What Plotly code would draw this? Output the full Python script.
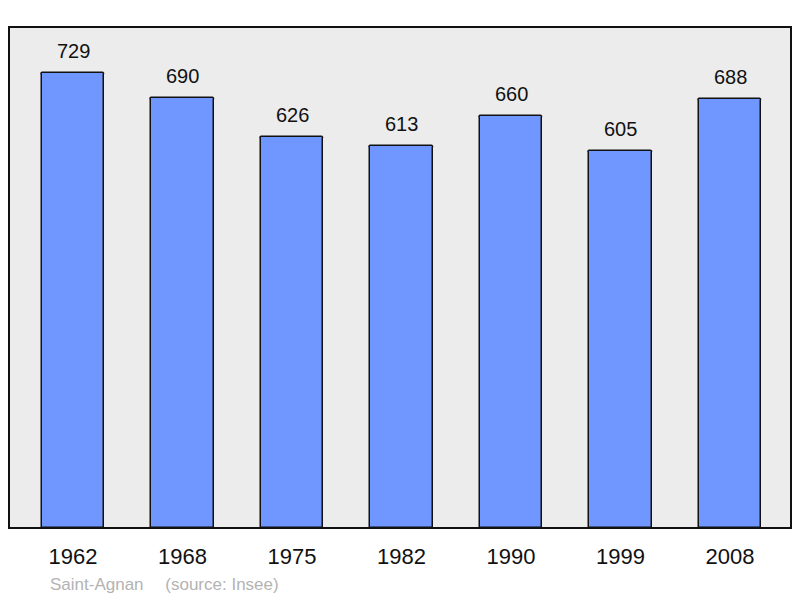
import plotly.graph_objects as go

years = ["1962", "1968", "1975", "1982", "1990", "1999", "2008"]
population = [729, 690, 626, 613, 660, 605, 688]
caption = "Saint-Agnan\u2003 (source: Insee)"

xpos = list(range(len(years)))
FONT = "Liberation Sans, Arial, sans-serif"

fig = go.Figure()
fig.add_trace(go.Bar(
    x=xpos, y=population, width=0.575,
    marker=dict(color="#7096ff", line=dict(color="#111111", width=1.5),
                cornerradius=2),
    hoverinfo="skip",
))

for xi, v in zip(xpos, population):
    fig.add_annotation(x=xi, y=v, text=str(v), showarrow=False,
                       yanchor="bottom", yshift=9,
                       font=dict(size=20, color="#111111", family=FONT))

fig.add_annotation(x=(48 - 9) / 782, y=-56 / 501, xref="paper", yref="paper",
                   text=caption, showarrow=False, xanchor="left", yanchor="middle",
                   font=dict(size=17, color="#b3b3b3", family=FONT))

fig.add_shape(type="rect", xref="paper", yref="paper", x0=0, y0=0, x1=1, y1=1,
              line=dict(color="#111111", width=2), layer="above")

fig.update_layout(
    width=800, height=598,
    margin=dict(l=9, r=9, t=27, b=70),
    paper_bgcolor="white", plot_bgcolor="#ececec",
    showlegend=False,
    bargap=0,
    xaxis=dict(range=[-0.5845, 6.557], tickmode="array", tickvals=xpos,
               ticktext=years, showgrid=False, zeroline=False,
               ticks="outside", ticklen=9, tickcolor="rgba(0,0,0,0)",
               tickfont=dict(size=22, color="#111111", family=FONT)),
    yaxis=dict(range=[0, 803], showgrid=False, zeroline=False,
               showticklabels=False, ticks=""),
)

fig.write_html("out.html", config={"displayModeBar": False},
               post_script="document.body.style.margin='0';")
